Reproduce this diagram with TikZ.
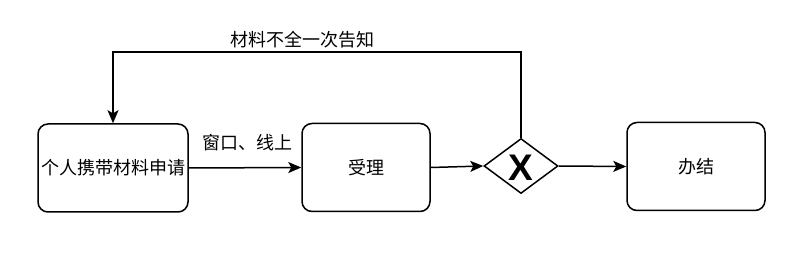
\documentclass[tikz,border=0pt]{standalone}
\usepackage{fontspec}
\setmainfont{Noto Sans CJK SC}
\newfontfamily\xfont{Liberation Sans}
\usetikzlibrary{arrows.meta,shapes.geometric}
\begin{document}
\begin{tikzpicture}[x=1pt,y=-1pt,
  box/.style={draw,line width=1.5pt,rounded corners=10pt,minimum width=#1,minimum height=88pt,inner sep=0pt,font=\fontsize{18pt}{21pt}\selectfont},
  gate/.style={draw,diamond,line width=1.5pt,minimum width=74pt,minimum height=55pt,inner sep=0pt},
  conn/.style={line width=1.5pt,-{Stealth[length=13pt,width=11pt,inset=3pt]}},
  lbl/.style={font=\fontsize{18pt}{21pt}\selectfont,inner sep=0pt}]
\useasboundingbox (0,0) rectangle (805,253);
\node[box=150pt] (a) at (113,168) {个人携带材料申请};
\node[box=128pt] (b) at (366,167.5) {受理};
\node[gate] (g) at (521,166) {};
\node[font=\xfont\bfseries\fontsize{37pt}{40pt}\selectfont,inner sep=0pt] (gx) at (521,168) {X};
\node[box=138pt] (d) at (696,166.5) {办结};
\coordinate (t1) at (521,52);
\coordinate (t2) at (113,52);
\draw[conn] (a.east) -- (b.west);
\draw[conn] (b.east) -- (g.west);
\draw[conn] (g.east) -- (d.west);
\draw[conn] (g.north) -- (t1) -- (t2) -- (a.north);
\node[lbl] (l1) at (247,143) {窗口、线上};
\node[lbl] (l2) at (302,40) {材料不全一次告知};
\end{tikzpicture}
\end{document}
